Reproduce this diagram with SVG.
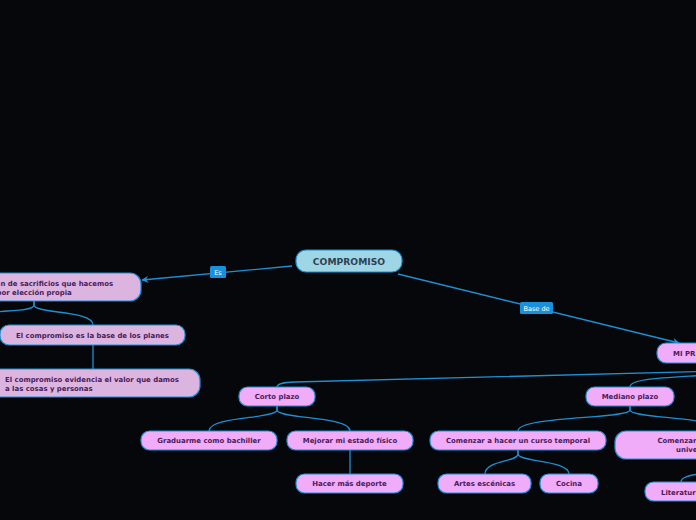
<svg xmlns="http://www.w3.org/2000/svg" width="696" height="520" viewBox="0 0 696 520">
<defs>
<marker id="arr" viewBox="0 0 10 10" refX="9" refY="5" markerWidth="7" markerHeight="7" orient="auto" markerUnits="userSpaceOnUse">
<path d="M0,0 L10,5 L0,10 L3,5 Z" fill="#1f93d9"/>
</marker>
<style>
.bg{fill:#05070a}
.con{fill:none;stroke:#1f8fd3;stroke-width:1.3}
.lbl{fill:#1a8fdb}
.lt{font-family:"DejaVu Sans","Liberation Sans",sans-serif;font-size:6.5px;fill:#ffffff}
.root{fill:#9fd6e6;stroke:#1f8fd3;stroke-width:1.2}
.rt{font-family:"DejaVu Sans","Liberation Sans",sans-serif;font-size:9.2px;font-weight:bold;fill:#2f4253}
.lav{fill:#dbb5e0;stroke:#1f8fd3;stroke-width:1.2}
.pink{fill:#f0acf8;stroke:#1f8fd3;stroke-width:1.2}
.t{font-family:"DejaVu Sans","Liberation Sans",sans-serif;font-size:6.95px;font-weight:bold;fill:#4a1a5a}
</style>
</defs>
<rect class="bg" x="0" y="0" width="696" height="520"/>
<g id="connectors">
<path class="con" d="M292,266 L142,280" marker-end="url(#arr)"/>
<path class="con" d="M398,274 L679,343" marker-end="url(#arr)"/>
<path class="con" d="M34,301 V305 C34,312 0,310 -10,313"/>
<path class="con" d="M34,301 V305 C34,314 93,310 93,325"/>
<path class="con" d="M93,345 V369"/>
<path class="con" d="M700,371.5 L295,382 C281,382.5 277,384 277,387"/>
<path class="con" d="M700,375.5 C660,378 630,379 630,387"/>
<path class="con" d="M277,406 V410 C277,419 209,416 209,431"/>
<path class="con" d="M277,406 V410 C277,419 350,416 350,431"/>
<path class="con" d="M350,450 V474"/>
<path class="con" d="M630,406 V410 C630,419 518,416 518,431"/>
<path class="con" d="M630,406 V410 C630,419 720,416 720,431"/>
<path class="con" d="M518,450 V454 C518,462 485,460 485,474"/>
<path class="con" d="M518,450 V454 C518,462 569,460 569,474"/>
<path class="con" d="M681,482 C681,477 690,475 700,474"/>
<rect class="lbl" x="210" y="266" width="16" height="12" rx="1.5"/>
<text class="lt" x="218" y="274.5" text-anchor="middle">Es</text>
<rect class="lbl" x="520" y="302" width="33" height="12" rx="1.5"/>
<text class="lt" x="536.5" y="310.5" text-anchor="middle">Base de</text>
</g>
<g id="n-compromiso">
<rect class="root" x="296" y="250" width="106" height="22" rx="10"/>
<text class="rt" x="349" y="264.5" text-anchor="middle">COMPROMISO</text>
</g>
<g id="n-sacrificios">
<rect class="lav" x="-60" y="273" width="201" height="28" rx="11"/>
<text class="t" x="0.5" y="285.5">n de sacrificios que hacemos</text>
<text class="t" x="-3.5" y="295">por elección propia</text>
</g>
<g id="n-base">
<rect class="lav" x="0" y="325" width="185" height="20" rx="9"/>
<text class="t" x="92.5" y="337.5" text-anchor="middle">El compromiso es la base de los planes</text>
</g>
<g id="n-evidencia">
<rect class="lav" x="-20" y="369" width="220" height="28" rx="11"/>
<text class="t" x="5" y="381.5">El compromiso evidencia el valor que damos</text>
<text class="t" x="5" y="390.5">a las cosas y personas</text>
</g>
<g id="n-proyecto">
<rect class="pink" x="657" y="343" width="80" height="20" rx="9"/>
<text class="t" x="673" y="355.5">MI PR</text>
</g>
<g id="n-corto">
<rect class="pink" x="239" y="387" width="76" height="19" rx="8.5"/>
<text class="t" x="277" y="399" text-anchor="middle">Corto plazo</text>
</g>
<g id="n-mediano">
<rect class="pink" x="586" y="387" width="88" height="19" rx="8.5"/>
<text class="t" x="630" y="399" text-anchor="middle">Mediano plazo</text>
</g>
<g id="n-graduarme">
<rect class="pink" x="141" y="431" width="136" height="19" rx="8.5"/>
<text class="t" x="209" y="443" text-anchor="middle">Graduarme como bachiller</text>
</g>
<g id="n-mejorar">
<rect class="pink" x="287" y="431" width="126" height="19" rx="8.5"/>
<text class="t" x="350" y="443" text-anchor="middle">Mejorar mi estado físico</text>
</g>
<g id="n-deporte">
<rect class="pink" x="296" y="474" width="107" height="19" rx="8.5"/>
<text class="t" x="349.5" y="486" text-anchor="middle">Hacer más deporte</text>
</g>
<g id="n-curso">
<rect class="pink" x="430" y="431" width="176" height="19" rx="8.5"/>
<text class="t" x="518" y="443" text-anchor="middle">Comenzar a hacer un curso temporal</text>
</g>
<g id="n-universidad">
<rect class="pink" x="615" y="431" width="130" height="28" rx="11"/>
<text class="t" x="657.5" y="443">Comenzar</text>
<text class="t" x="676" y="452">unive</text>
</g>
<g id="n-artes">
<rect class="pink" x="438" y="474" width="93" height="19" rx="8.5"/>
<text class="t" x="484.5" y="486" text-anchor="middle">Artes escénicas</text>
</g>
<g id="n-cocina">
<rect class="pink" x="540" y="474" width="58" height="19" rx="8.5"/>
<text class="t" x="569" y="486" text-anchor="middle">Cocina</text>
</g>
<g id="n-literatura">
<rect class="pink" x="645" y="482" width="80" height="19" rx="8.5"/>
<text class="t" x="661" y="494.5">Literatur</text>
</g>
</svg>
